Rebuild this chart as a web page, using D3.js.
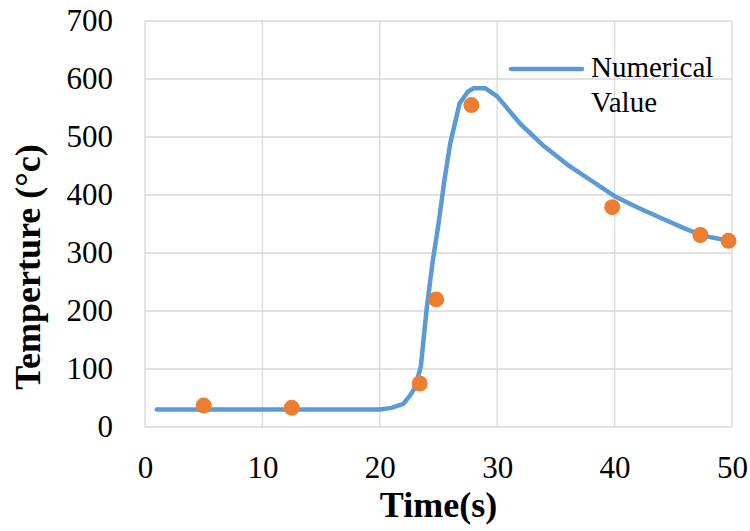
<!DOCTYPE html>
<html>
<head>
<meta charset="utf-8">
<script src="https://cdn.jsdelivr.net/npm/d3@7"></script>
<style>
  body { margin: 0; background: #fff; }
  text { font-family: "Liberation Serif", "Times New Roman", serif; fill: #000; }
</style>
</head>
<body>
<div id="chart"></div>
<script>
// numerical curve
const simTime = [1, 5, 10, 15, 20, 21, 22, 22.6, 23, 23.5, 24, 24.5, 25, 25.5, 26, 26.8, 27.5, 28, 29, 30, 32, 34, 36, 38, 40, 42, 44, 46, 47, 48, 50];
const simTemp = [30, 30, 30, 30, 30, 33, 40, 55, 68, 105, 205, 285, 350, 425, 489, 558, 578, 584, 584, 570, 522, 484, 452, 425, 398, 378, 360, 342, 334, 328, 320];
// measured points
const expTime = [5, 12.5, 23.4, 24.8, 27.8, 39.8, 47.3, 49.7];
const expTemp = [37, 33, 75, 220, 555, 379, 331, 321];
const xTicks = [0, 10, 20, 30, 40, 50];
const yTicks = [0, 100, 200, 300, 400, 500, 600, 700];

const w = 750, h = 531;
const padL = 145, padR = 732, padT = 21, padB = 427;

const svg = d3.select("#chart").append("svg")
  .attr("width", w).attr("height", h);

const x = d3.scaleLinear().domain([0, 50]).range([padL, padR]);
const y = d3.scaleLinear().domain([0, 700]).range([padB, padT]);

// grid
svg.append("g").selectAll("line").data(yTicks).enter().append("line")
  .attr("x1", padL).attr("x2", padR)
  .attr("y1", d => y(d)).attr("y2", d => y(d))
  .attr("stroke", "#d9d9d9").attr("stroke-width", 1.3);
svg.append("g").selectAll("line").data(xTicks).enter().append("line")
  .attr("y1", padT).attr("y2", padB)
  .attr("x1", d => x(d)).attr("x2", d => x(d))
  .attr("stroke", "#d9d9d9").attr("stroke-width", 1.3);

// axes (labels only)
const xAxis = d3.axisBottom(x).tickValues(xTicks).tickSize(0).tickPadding(29);
const gx = svg.append("g").attr("transform", "translate(0," + padB + ")").call(xAxis);
gx.select(".domain").remove();
gx.selectAll("text").style("font-size", "31px").style("font-family", "Liberation Serif").attr("fill", "#000");

const yAxis = d3.axisLeft(y).tickValues(yTicks).tickSize(0).tickPadding(32);
const gy = svg.append("g").attr("transform", "translate(" + padL + ",0)").call(yAxis);
gy.select(".domain").remove();
gy.selectAll("text").style("font-size", "31px").style("font-family", "Liberation Serif").attr("fill", "#000");

// line
const simData = simTime.map((t, i) => ({t: t, v: simTemp[i]}));
svg.append("path")
  .datum(simData)
  .attr("fill", "none")
  .attr("stroke", "#5b9bd5")
  .attr("stroke-width", 4.5)
  .attr("stroke-linejoin", "round")
  .attr("stroke-linecap", "round")
  .attr("d", d3.line().x(d => x(d.t)).y(d => y(d.v)));

// points
svg.selectAll("circle")
  .data(expTime.map((t, i) => ({t: t, v: expTemp[i]})))
  .enter().append("circle")
  .attr("cx", d => x(d.t)).attr("cy", d => y(d.v))
  .attr("r", 8)
  .attr("fill", "#ed7d31");

// titles
svg.append("text")
  .attr("x", (padL + padR) / 2).attr("y", 517)
  .attr("text-anchor", "middle")
  .style("font-size", "36px").style("font-weight", "bold")
  .text("Time(s)");

svg.append("text")
  .attr("transform", "translate(40,267) rotate(-90)")
  .attr("text-anchor", "middle")
  .style("font-size", "36px").style("font-weight", "bold")
  .text("Temperture (°c)");

// legend
svg.append("line")
  .attr("x1", 511).attr("x2", 582).attr("y1", 69).attr("y2", 69)
  .attr("stroke", "#5b9bd5").attr("stroke-width", 4.5).attr("stroke-linecap", "round");
svg.append("text").attr("x", 591).attr("y", 77).style("font-size", "29px").text("Numerical");
svg.append("text").attr("x", 591).attr("y", 112).style("font-size", "29px").text("Value");
</script>
</body>
</html>
